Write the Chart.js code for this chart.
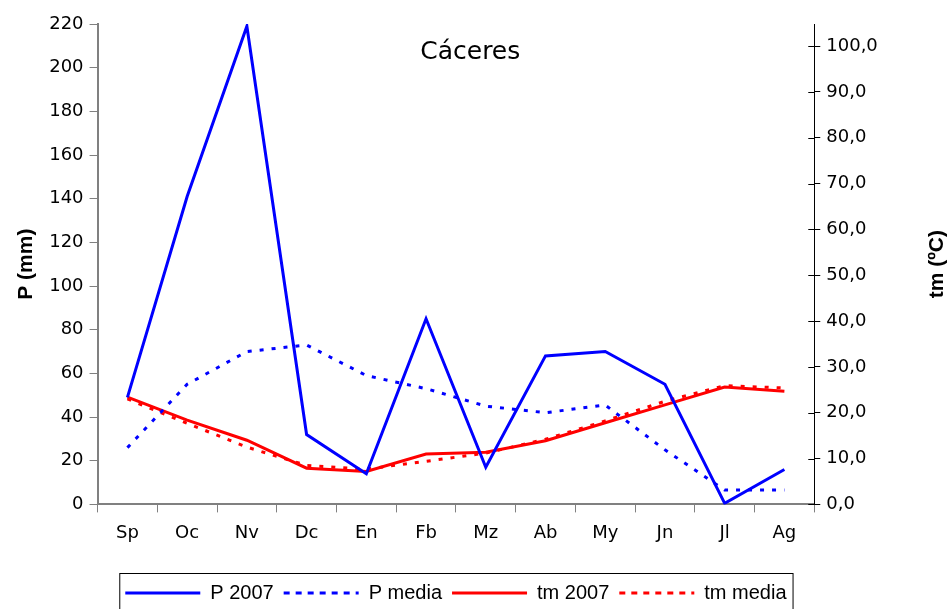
<!DOCTYPE html>
<html>
<head>
<meta charset="utf-8">
<script src="https://cdn.jsdelivr.net/npm/chart.js@4"></script>
<style>
  html, body { margin: 0; padding: 0; background: #fff; }
  #wrap { width: 951px; height: 609px; }
</style>
</head>
<body>
<div id="wrap"><canvas id="chart" width="951" height="609"></canvas></div>
<script>
const months = ['Sp', 'Oc', 'Nv', 'Dc', 'En', 'Fb', 'Mz', 'Ab', 'My', 'Jn', 'Jl', 'Ag'];
const p2007 = [49, 141, 219, 32, 14, 85, 17, 68, 70, 55, 0.5, 16];
const pMedia = [26, 55, 70, 73, 59, 53, 45, 42, 45.5, 25, 6.6, 6.6];
const tm2007 = [23.4, 18.4, 14, 7.9, 7.2, 11, 11.4, 13.9, 17.8, 21.7, 25.6, 24.7];
const tmMedia = [23, 17.7, 12.5, 8.5, 7.7, 9.4, 11.2, 14.2, 18.2, 22.5, 25.9, 25.4];
const pTicks = [0, 20, 40, 60, 80, 100, 120, 140, 160, 180, 200, 220];
const tmTicks = [0, 10, 20, 30, 40, 50, 60, 70, 80, 90, 100];

const tickFont = { family: 'DejaVu Sans', size: 18 };
const titleFont = { family: 'Liberation Sans', size: 21, weight: 'bold' };

// title inside the plot, right axis title read bottom-up, cross ticks, legend border
const extras = {
    id: 'extras',
    afterDraw(chart) {
        const ctx = chart.ctx;
        const area = chart.chartArea;
        ctx.save();
        ctx.fillStyle = '#000';
        ctx.font = '25px "DejaVu Sans"';
        ctx.textAlign = 'center';
        ctx.textBaseline = 'middle';
        ctx.fillText('Cáceres', area.left + (area.right - area.left) * 0.52, area.top + 28);

        ctx.font = 'bold 21px "Liberation Sans"';
        ctx.translate(chart.width - 14, (area.top + area.bottom) / 2);
        ctx.rotate(-Math.PI / 2);
        ctx.fillText('tm (ºC)', 0, 0);
        ctx.setTransform(1, 0, 0, 1, 0, 0);

        const yT = chart.scales.yT;
        ctx.strokeStyle = '#000';
        ctx.lineWidth = 1;
        ctx.beginPath();
        yT.ticks.forEach(t => {
            const y = Math.round(yT.getPixelForValue(t.value)) + 0.5;
            ctx.moveTo(area.right - 6, y);
            ctx.lineTo(area.right, y);
        });
        ctx.stroke();

        const boxes = chart.legend.legendHitBoxes;
        if (boxes.length) {
            const left = Math.min(...boxes.map(b => b.left)) - 6;
            const right = Math.max(...boxes.map(b => b.left + b.width)) + 6;
            const top = boxes[0].top - 10;
            ctx.strokeRect(left + 0.5, top + 0.5, right - left, chart.height - top + 5);
        }
        ctx.restore();
    }
};

new Chart(document.getElementById('chart'), {
    type: 'line',
    data: {
        labels: months,
        datasets: [
            { label: 'P 2007', data: p2007, yAxisID: 'yP', borderColor: '#0000ff', borderWidth: 3 },
            { label: 'P media', data: pMedia, yAxisID: 'yP', borderColor: '#0000ff', borderWidth: 3, borderDash: [4, 8] },
            { label: 'tm 2007', data: tm2007, yAxisID: 'yT', borderColor: '#ff0000', borderWidth: 3 },
            { label: 'tm media', data: tmMedia, yAxisID: 'yT', borderColor: '#ff0000', borderWidth: 3, borderDash: [4, 8] }
        ]
    },
    options: {
        responsive: false,
        animation: false,
        elements: { point: { radius: 0 }, line: { tension: 0 } },
        layout: { padding: { left: 10, right: 8, top: 24, bottom: -4 } },
        plugins: {
            tooltip: { enabled: false },
            legend: {
                position: 'bottom',
                fullSize: false,
                labels: {
                    boxWidth: 75,
                    boxHeight: 0,
                    padding: 10,
                    color: '#000',
                    font: { family: 'Liberation Sans', size: 20 }
                }
            }
        },
        scales: {
            x: {
                offset: true,
                grid: { offset: true, drawOnChartArea: false, tickLength: 8, color: '#808080' },
                border: { color: '#808080', width: 2 },
                ticks: { color: '#000', font: tickFont, padding: 10 },
                afterFit: s => { s.height += 19; }
            },
            yP: {
                position: 'left',
                min: 0,
                max: 220,
                afterBuildTicks: s => { s.ticks = pTicks.map(v => ({ value: v })); },
                grid: { drawOnChartArea: false, tickLength: 8, color: '#808080' },
                border: { color: '#808080', width: 2 },
                ticks: { color: '#000', font: tickFont, padding: 6 },
                title: { display: true, text: 'P (mm)', color: '#000', font: titleFont }
            },
            yT: {
                position: 'right',
                min: 0,
                max: 104.8,
                afterBuildTicks: s => { s.ticks = tmTicks.map(v => ({ value: v })); },
                grid: { drawOnChartArea: false, tickLength: 6, color: '#000' },
                border: { color: '#000', width: 1 },
                ticks: { color: '#000', font: tickFont, padding: 6, callback: v => v.toFixed(1).replace('.', ',') },
                title: { display: true, text: 'tm (ºC)', color: 'rgba(0,0,0,0)', font: titleFont, padding: { top: 30, bottom: 4 } }
            }
        }
    },
    plugins: [extras]
});
</script>
</body>
</html>
